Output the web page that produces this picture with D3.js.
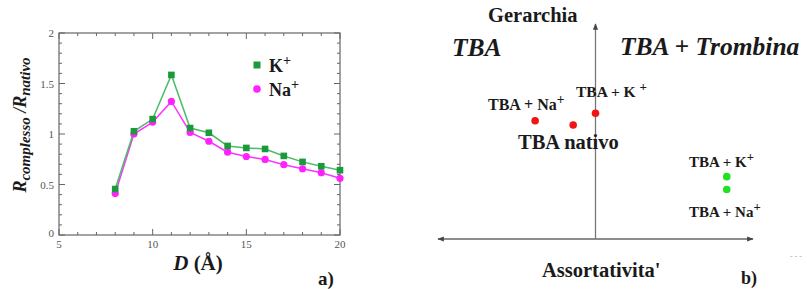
<!DOCTYPE html>
<html>
<head>
<meta charset="utf-8">
<script src="https://cdn.jsdelivr.net/npm/d3@7"></script>
<style>
  body { margin: 0; background: #fff; }
  text { font-family: "Liberation Serif", "DejaVu Serif", serif; }
</style>
</head>
<body>
<svg id="chart" width="807" height="289"></svg>
<script>
// panel a) data
const distances = [8, 9, 10, 11, 12, 13, 14, 15, 16, 17, 18, 19, 20];
const ratioK = [0.455, 1.027, 1.148, 1.585, 1.059, 1.012, 0.882, 0.862, 0.852, 0.783, 0.724, 0.681, 0.642];
const ratioNa = [0.41, 1.0, 1.118, 1.323, 1.016, 0.928, 0.82, 0.777, 0.748, 0.696, 0.656, 0.617, 0.562];
const xTicks = [5, 10, 15, 20];
const yTicks = [0, 0.5, 1, 1.5, 2];

// panel b) points, in axis units (x: assortativity, y: hierarchy)
const pointNames = ["TBA + Na+", "TBA nativo", "TBA + K+", "TBA + K+ (trombina)", "TBA + Na+ (trombina)"];
const pointX = [-0.46, -0.17, 0.0, 1.0, 1.0];
const pointY = [0.55, 0.53, 0.585, 0.29, 0.23];
const pointColor = ["#f01414", "#f01414", "#f01414", "#22e022", "#22e022"];

const svg = d3.select("#chart");

// ---------- panel a ----------
let x = d3.scaleLinear().domain([5, 20]).range([59, 340]);
let y = d3.scaleLinear().domain([0, 2]).range([235, 33]);

let frame = svg.append("g");
frame.append("rect")
  .attr("x", x(5)).attr("y", y(2))
  .attr("width", x(20) - x(5)).attr("height", y(0) - y(2))
  .attr("fill", "none").attr("stroke", "#666").attr("stroke-width", 1.2);

// inward ticks on all four sides
d3.range(5, 20.01, 1).forEach(v => {
  let len = v % 5 === 0 ? 6 : 3;
  frame.append("line").attr("x1", x(v)).attr("x2", x(v)).attr("y1", y(0)).attr("y2", y(0) - len).attr("stroke", "#666");
  frame.append("line").attr("x1", x(v)).attr("x2", x(v)).attr("y1", y(2)).attr("y2", y(2) + len).attr("stroke", "#666");
});
d3.range(0, 2.001, 0.1).forEach(v => {
  let major = Math.abs(v * 2 - Math.round(v * 2)) < 1e-6;
  let len = major ? 6 : 3;
  frame.append("line").attr("x1", x(5)).attr("x2", x(5) + len).attr("y1", y(v)).attr("y2", y(v)).attr("stroke", "#666");
  frame.append("line").attr("x1", x(20)).attr("x2", x(20) - len).attr("y1", y(v)).attr("y2", y(v)).attr("stroke", "#666");
});

frame.selectAll(".xt").data(xTicks).join("text")
  .attr("x", d => x(d)).attr("y", y(0) + 13)
  .attr("text-anchor", "middle").attr("font-size", 11).attr("fill", "#555")
  .text(d => d);
frame.selectAll(".yt").data(yTicks).join("text")
  .attr("x", x(5) - 5).attr("y", d => y(d) + (d === 0 ? 2 : 4))
  .attr("text-anchor", "end").attr("font-size", 11).attr("fill", "#555")
  .text(d => d);

// axis titles
let xt = svg.append("text").attr("x", 198).attr("y", 270)
  .attr("text-anchor", "middle").attr("font-size", 21).attr("font-weight", "bold").attr("fill", "#1a1a1a");
xt.append("tspan").attr("font-style", "italic").text("D");
xt.append("tspan").text(" (Å)");

let yt = svg.append("text")
  .attr("transform", "translate(26,125) rotate(-90)")
  .attr("text-anchor", "middle").attr("font-size", 18).attr("font-weight", "bold")
  .attr("font-style", "italic").attr("fill", "#1a1a1a");
yt.append("tspan").text("R");
yt.append("tspan").attr("font-size", 15).attr("dy", 4).text("complesso");
yt.append("tspan").attr("font-size", 18).attr("dy", -4).text(" /R");
yt.append("tspan").attr("font-size", 15).attr("dy", 4).text("nativo");

// lines and markers
let line = d3.line().x((d, i) => x(distances[i])).y(d => y(d));
svg.append("path").datum(ratioNa).attr("d", line)
  .attr("fill", "none").attr("stroke", "#ff33ff").attr("stroke-width", 1.5);
svg.append("path").datum(ratioK).attr("d", line)
  .attr("fill", "none").attr("stroke", "#4cbc6a").attr("stroke-width", 1.5);

svg.selectAll(".na").data(ratioNa).join("circle")
  .attr("cx", (d, i) => x(distances[i])).attr("cy", d => y(d)).attr("r", 3.6)
  .attr("fill", "#ff22ff");
svg.selectAll(".k").data(ratioK).join("rect")
  .attr("x", (d, i) => x(distances[i]) - 3.3).attr("y", d => y(d) - 3.3)
  .attr("width", 6.6).attr("height", 6.6).attr("fill", "#1a9a3a");

// legend
svg.append("rect").attr("x", 253.5).attr("y", 61.5).attr("width", 7).attr("height", 7).attr("fill", "#1a9a3a");
svg.append("circle").attr("cx", 257).attr("cy", 89).attr("r", 3.8).attr("fill", "#ff22ff");
let lk = svg.append("text").attr("x", 269).attr("y", 72).attr("font-size", 18).attr("font-weight", "bold").attr("fill", "#1a1a1a");
lk.append("tspan").text("K");
lk.append("tspan").attr("dy", -7).attr("font-size", 14).text("+");
let ln = svg.append("text").attr("x", 269).attr("y", 96).attr("font-size", 18).attr("font-weight", "bold").attr("fill", "#1a1a1a");
ln.append("tspan").text("Na");
ln.append("tspan").attr("dy", -7).attr("font-size", 14).text("+");

svg.append("text").attr("x", 318).attr("y", 285).attr("font-size", 19).attr("font-weight", "bold").attr("fill", "#1a1a1a").text("a)");

// ---------- panel b ----------
let bx = d3.scaleLinear().domain([-1.2, 1.2]).range([438, 753]);
let by = d3.scaleLinear().domain([0, 1]).range([239, 24]);

let arrow = svg.append("defs").append("marker")
  .attr("id", "arr").attr("viewBox", "0 0 10 10").attr("refX", 9).attr("refY", 5)
  .attr("markerWidth", 5).attr("markerHeight", 5).attr("orient", "auto-start-reverse");
arrow.append("path").attr("d", "M0,1 L10,5 L0,9 Z").attr("fill", "#444");

svg.append("line").attr("x1", bx(-1.2)).attr("x2", bx(1.2)).attr("y1", by(0)).attr("y2", by(0))
  .attr("stroke", "#666").attr("stroke-width", 1.3)
  .attr("marker-start", "url(#arr)").attr("marker-end", "url(#arr)");
svg.append("line").attr("x1", bx(0)).attr("x2", bx(0)).attr("y1", by(0)).attr("y2", by(1))
  .attr("stroke", "#777").attr("stroke-width", 1.3)
  .attr("marker-end", "url(#arr)");

svg.selectAll(".pt").data(pointX).join("circle")
  .attr("cx", d => bx(d)).attr("cy", (d, i) => by(pointY[i])).attr("r", 3.8)
  .attr("fill", (d, i) => pointColor[i]);

function label(txt, sup, px, py, size) {
  let t = svg.append("text").attr("x", px).attr("y", py).attr("font-size", size)
    .attr("font-weight", "bold").attr("fill", "#1a1a1a");
  t.append("tspan").text(txt);
  if (sup) t.append("tspan").attr("dy", -6).attr("font-size", size * 0.85).text(sup);
}
label("Gerarchia", null, 488, 22, 20.5);
label("Assortativita'", null, 542, 277, 20.5);
label("b)", null, 741, 284, 18);
label("TBA + Na", "+", 488, 110, 16);
label("TBA + K ", "+", 576, 97, 15.5);
label("TBA nativo", null, 518, 149, 20.5);
label("TBA + K", "+", 689, 167, 15);
label("TBA + Na", "+", 689, 217, 15);

svg.append("text").attr("x", 452).attr("y", 56).attr("font-size", 25.5)
  .attr("font-weight", "bold").attr("font-style", "italic").attr("fill", "#1a1a1a").text("TBA");
svg.append("text").attr("x", 620).attr("y", 55).attr("font-size", 25.5)
  .attr("font-weight", "bold").attr("font-style", "italic").attr("fill", "#1a1a1a").text("TBA + Trombina");

svg.append("text").attr("x", 790).attr("y", 259).attr("font-size", 8).attr("fill", "#aaa").text("- - -");
</script>
</body>
</html>
